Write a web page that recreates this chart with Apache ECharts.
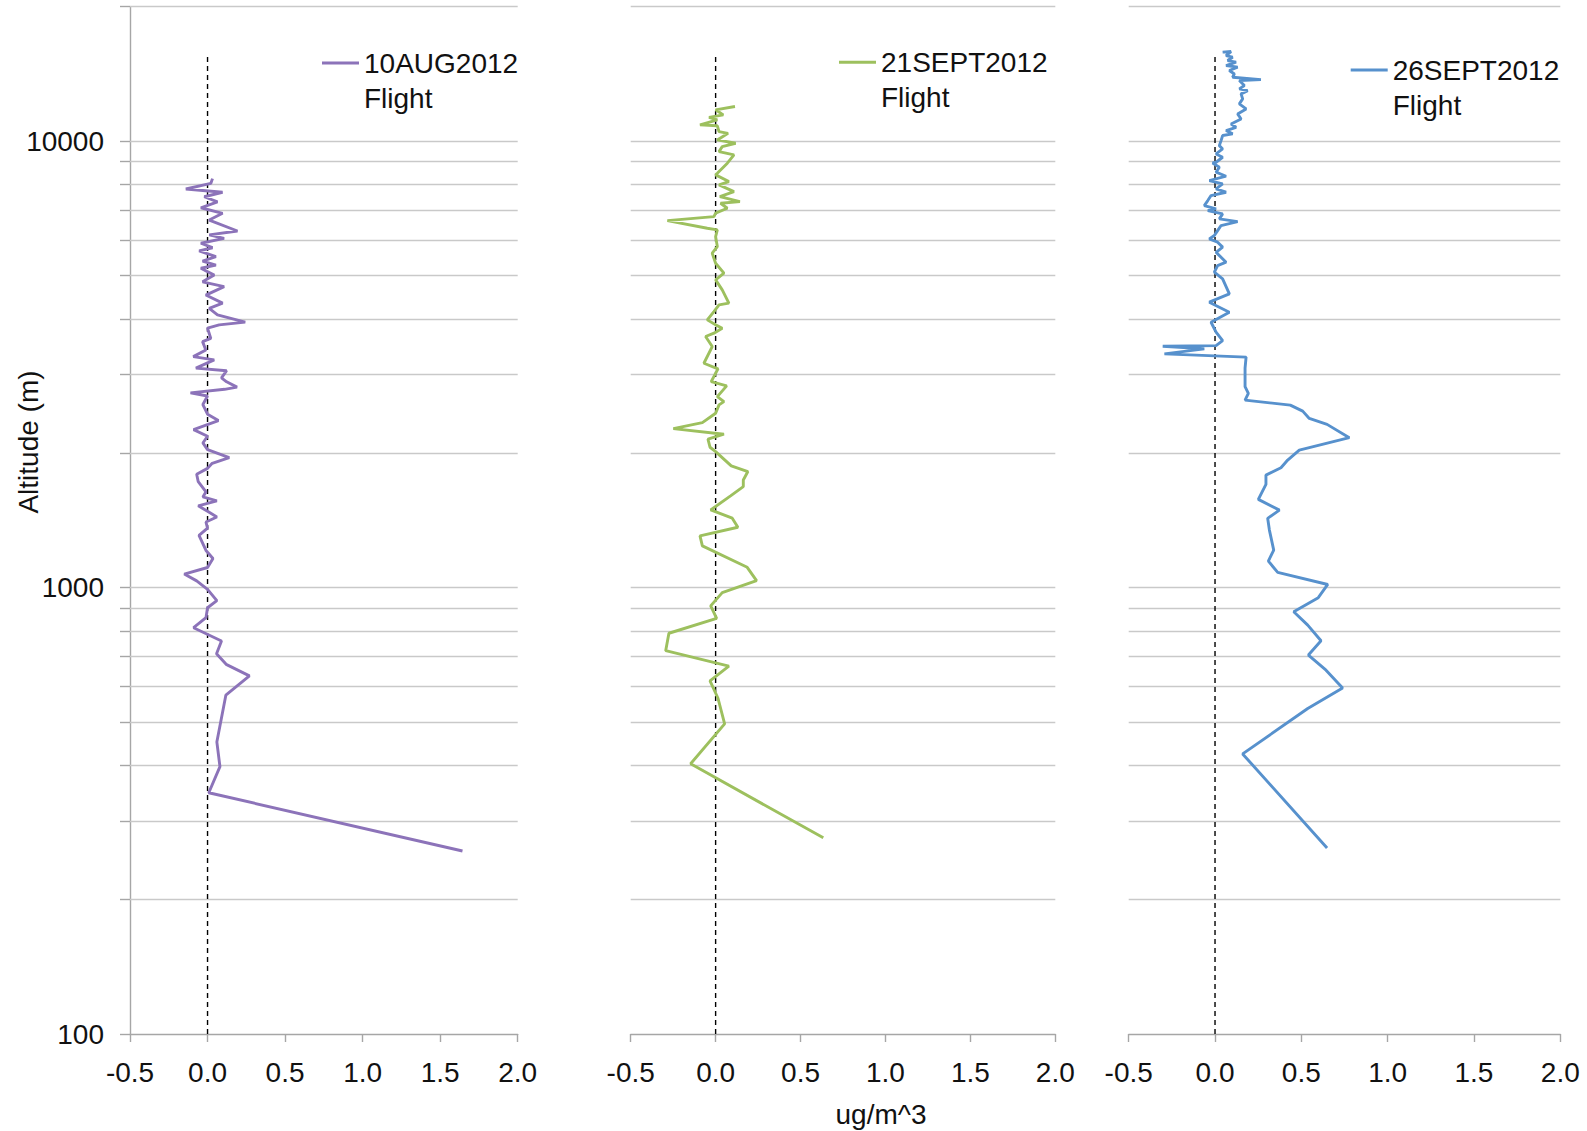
<!DOCTYPE html>
<html>
<head>
<meta charset="utf-8">
<script src="https://cdn.jsdelivr.net/npm/echarts@6/dist/echarts.min.js"></script>
<style>
html,body{margin:0;padding:0;background:#ffffff;}
#c{width:1587px;height:1131px;}
</style>
</head>
<body>
<div id="c"></div>
<script>
// ---------- DATA ----------
const seriesNames = ['10AUG2012 Flight', '21SEPT2012 Flight', '26SEPT2012 Flight'];

const aug10Alt = [8240,8040,7810,7680,7505,7310,7090,6890,6655,6290,6165,6055,5905,5770,5675,5510,5385,5275,5190,5010,4840,4720,4520,4335,4220,4080,3930,3875,3810,3615,3555,3405,3290,3235,3100,3060,2950,2890,2812,2780,2730,2685,2570,2445,2366,2258,2182,2108,2037,1955,1898,1849,1794,1726,1638,1596,1563,1524,1482,1439,1402,1359,1309,1211,1162,1109,1072,1035,991,935,901,856,813,759,711,673,634,574,451,397,347,257];
const aug10Conc = [0.032,0.021,-0.14,0.097,-0.021,0.064,-0.043,0.097,0.011,0.193,0.011,0.107,-0.043,0.032,-0.054,0.054,-0.032,0.054,-0.043,0.043,-0.032,0.107,-0.011,0.097,0.011,0.064,0.243,0.075,0.0,0.021,-0.032,-0.011,-0.092,0.043,-0.075,0.123,0.09,0.123,0.19,0.11,-0.11,0.0,-0.03,0.0,0.07,-0.09,0.0,-0.03,0.0,0.14,0.03,0.0,-0.07,-0.06,-0.01,-0.03,0.06,-0.06,0.0,0.06,-0.01,0.0,-0.055,-0.01,0.035,0.0,-0.15,-0.07,0.0,0.06,0.0,-0.01,-0.09,0.09,0.058,0.12,0.27,0.118,0.06,0.08,0.008,1.644];

const sep21Alt = [11950,11750,11450,11300,11160,10870,10820,10500,10410,10060,9890,9720,9475,9315,8922,8475,8402,8117,7980,7706,7510,7318,7258,7073,6895,6775,6637,6380,6325,6110,5803,5610,5327,5060,4888,4642,4335,4297,4151,3977,3876,3810,3713,3650,3466,3180,3090,2893,2829,2677,2609,2565,2457,2341,2270,2205,2149,2062,2016,1873,1819,1742,1683,1604,1492,1430,1365,1305,1240,1110,1036,974,910,853,790,722,667,618,565,495,403,275];
const sep21Conc = [0.114,0.0,0.045,-0.039,0.01,-0.092,0.01,0.02,0.073,0.01,0.118,0.039,0.02,0.108,0.069,0.01,0.0,0.078,0.02,0.108,0.025,0.143,0.029,0.069,0.0,-0.01,-0.284,-0.049,0.01,0.0,0.01,-0.02,0.0,0.049,0.0,0.039,0.078,0.02,-0.01,-0.049,0.0,0.039,-0.01,-0.059,-0.02,-0.069,0.014,-0.026,0.065,0.01,0.049,0.02,0.0,-0.078,-0.249,0.049,-0.045,-0.033,0.0,0.092,0.19,0.163,0.163,0.088,-0.029,0.098,0.131,-0.092,-0.078,0.186,0.241,0.039,-0.029,0.006,-0.275,-0.294,0.078,-0.033,0.014,0.053,-0.147,0.634];

const sep26Alt = [15820,15870,15545,15415,15150,15020,14765,14640,14390,14140,13900,13730,13665,13315,13090,12975,12755,12430,12115,11805,11505,11210,10925,10740,10560,10380,10290,10025,9770,9605,9360,9200,8966,8930,8738,8518,8343,8157,8018,7814,7682,7551,7359,7171,7049,6989,6870,6695,6603,6469,6303,6144,6040,5937,5787,5636,5355,5263,5086,4914,4548,4357,4137,3929,3732,3574,3483,3472,3424,3337,3281,3100,2818,2721,2629,2562,2484,2392,2320,2166,2032,1930,1855,1786,1702,1576,1491,1429,1345,1213,1146,1081,1016,949,883,824,760,706,653,596,536,424,261];
const sep26Conc = [0.044,0.093,0.064,0.102,0.073,0.122,0.064,0.131,0.083,0.112,0.102,0.266,0.141,0.17,0.141,0.189,0.151,0.16,0.141,0.18,0.131,0.151,0.093,0.122,0.064,0.102,0.044,0.035,0.025,0.044,0.006,0.044,0.006,-0.014,0.025,0.006,0.064,-0.033,0.044,0.006,0.064,-0.023,-0.042,-0.062,0.006,-0.042,0.044,0.025,0.131,0.035,0.015,-0.004,-0.033,0.015,0.044,0.006,0.064,0.015,-0.004,0.044,0.083,-0.033,0.083,-0.023,0.006,0.044,0.006,-0.303,-0.062,-0.293,0.18,0.174,0.174,0.193,0.174,0.436,0.508,0.546,0.649,0.778,0.488,0.421,0.382,0.295,0.295,0.251,0.373,0.305,0.315,0.34,0.309,0.363,0.653,0.598,0.456,0.537,0.614,0.541,0.643,0.739,0.537,0.16,0.649];

// zero reference (dashed) line: concentration 0 from bottom of axis up to top of the profiles
const zeroConc = [0, 0];
const zeroAlt = [100, 15500];

// gridline altitudes (log axis, 2..9 x 10^n) and axis limits
const gridAltitudes = [200,300,400,500,600,700,800,900,1000,2000,3000,4000,5000,6000,7000,8000,9000,10000,20000];
const tickAltitudes = [100].concat(gridAltitudes);
const altMin = 100, altMax = 20000;
const concMin = -0.5, concMax = 2.0, concInterval = 0.5;

const yTitle = 'Altitude (m)';
const xTitle = 'ug/m^3';

// ---------- STYLE ----------
const colors = ['#8C73B9', '#9DC05E', '#5791CD'];
const FONT = "'Liberation Sans', Arial, Helvetica, sans-serif";
const TEXT = '#111111';
const AXIS = '#a6a6a6';
const GRIDC = '#c9c9c9';
const FS = 28;

const zip = (xs, ys) => xs.map((x, i) => [x, ys[i]]);
const concs = [aug10Conc, sep21Conc, sep26Conc];
const alts = [aug10Alt, sep21Alt, sep26Alt];

const panels = [
  { left: 130,    width: 387.7, legendLeft: 317,    legendTop: 5.5 },
  { left: 630.7,  width: 424.6, legendLeft: 834,    legendTop: 4.8 },
  { left: 1128.7, width: 431.6, legendLeft: 1345.7, legendTop: 12.5 }
];
const TOP = 6.7, HEIGHT = 1027.3;

const grids = panels.map(p => ({ left: p.left, top: TOP, width: p.width, height: HEIGHT }));
grids.push({ left: 120, top: TOP, width: 10, height: HEIGHT }); // outward y ticks of first panel

const xAxes = panels.map((p, i) => ({
  type: 'value', gridIndex: i, min: concMin, max: concMax, interval: concInterval,
  axisLine: { show: true, onZero: false, lineStyle: { color: AXIS, width: 1.4 } },
  axisTick: { show: true, length: 8, lineStyle: { color: AXIS, width: 1.4 } },
  axisLabel: { show: true, margin: 24, fontSize: FS, fontFamily: FONT, color: TEXT,
               formatter: v => v.toFixed(1) },
  splitLine: { show: false }
}));
xAxes.push({ type: 'value', gridIndex: 3, min: 0, max: 1, show: false });

const yAxes = panels.map((p, i) => ({
  type: 'log', logBase: 10, gridIndex: i, min: altMin, max: altMax,
  show: i === 0,
  axisLine: { show: i === 0, onZero: false, lineStyle: { color: AXIS, width: 1.4 } },
  axisTick: { show: false },
  axisLabel: { show: i === 0, margin: 26, fontSize: FS, fontFamily: FONT, color: TEXT,
               showMaxLabel: false, formatter: v => String(Math.round(v)) },
  splitLine: { show: false }
}));
yAxes.push({ type: 'log', logBase: 10, gridIndex: 3, min: altMin, max: altMax, show: false });

const series = [];
panels.forEach((p, i) => {
  // zero line + gridlines
  series.push({
    type: 'line', xAxisIndex: i, yAxisIndex: i, silent: true, z: 2,
    data: zip(zeroConc, zeroAlt), symbol: 'none',
    lineStyle: { color: '#000000', width: 1.4, type: [5, 4] },
    markLine: {
      silent: true, symbol: ['none', 'none'], z: 1, animation: false,
      label: { show: false }, emphasis: { disabled: true },
      lineStyle: { color: GRIDC, width: 1.4, type: 'solid' },
      data: gridAltitudes.map(v => ({ yAxis: v }))
    }
  });
  // data
  series.push({
    type: 'line', name: seriesNames[i], xAxisIndex: i, yAxisIndex: i, z: 3,
    data: zip(concs[i], alts[i]), symbol: 'none', showSymbol: false,
    lineStyle: { color: colors[i], width: 2.9 },
    itemStyle: { color: colors[i] },
    emphasis: { disabled: true }
  });
});
// outward ticks on left axis
series.push({
  type: 'line', xAxisIndex: 3, yAxisIndex: 3, silent: true, data: [], symbol: 'none',
  markLine: {
    silent: true, symbol: ['none', 'none'], animation: false,
    label: { show: false }, emphasis: { disabled: true },
    lineStyle: { color: AXIS, width: 1.4, type: 'solid' },
    data: tickAltitudes.map(v => ({ yAxis: v }))
  }
});

// legend: name shown on two lines, the first line level with the line sample
const legends = panels.map((p, i) => ({
  data: [seriesNames[i]], left: p.legendLeft, top: p.legendTop, orient: 'vertical',
  selectedMode: false, icon: 'rect', itemWidth: 37, itemHeight: 3,
  itemStyle: { color: colors[i] },
  formatter: n => '\n' + n.replace(' ', '\n'),
  textStyle: { fontSize: FS, fontFamily: FONT, color: TEXT, lineHeight: 35 }
}));

const option = {
  animation: false,
  backgroundColor: '#ffffff',
  grid: grids,
  xAxis: xAxes,
  yAxis: yAxes,
  legend: legends,
  series: series,
  graphic: [
    { type: 'text', x: 28, y: 442, rotation: Math.PI / 2, silent: true,
      style: { text: yTitle, font: FS + 'px ' + FONT, fill: TEXT, align: 'center', verticalAlign: 'middle' } },
    { type: 'text', x: 881, y: 1114, silent: true,
      style: { text: xTitle, font: FS + 'px ' + FONT, fill: TEXT, align: 'center', verticalAlign: 'middle' } }
  ]
};

const chart = echarts.init(document.getElementById('c'), null, { renderer: 'svg', width: 1587, height: 1131 });
chart.setOption(option);
</script>
</body>
</html>
